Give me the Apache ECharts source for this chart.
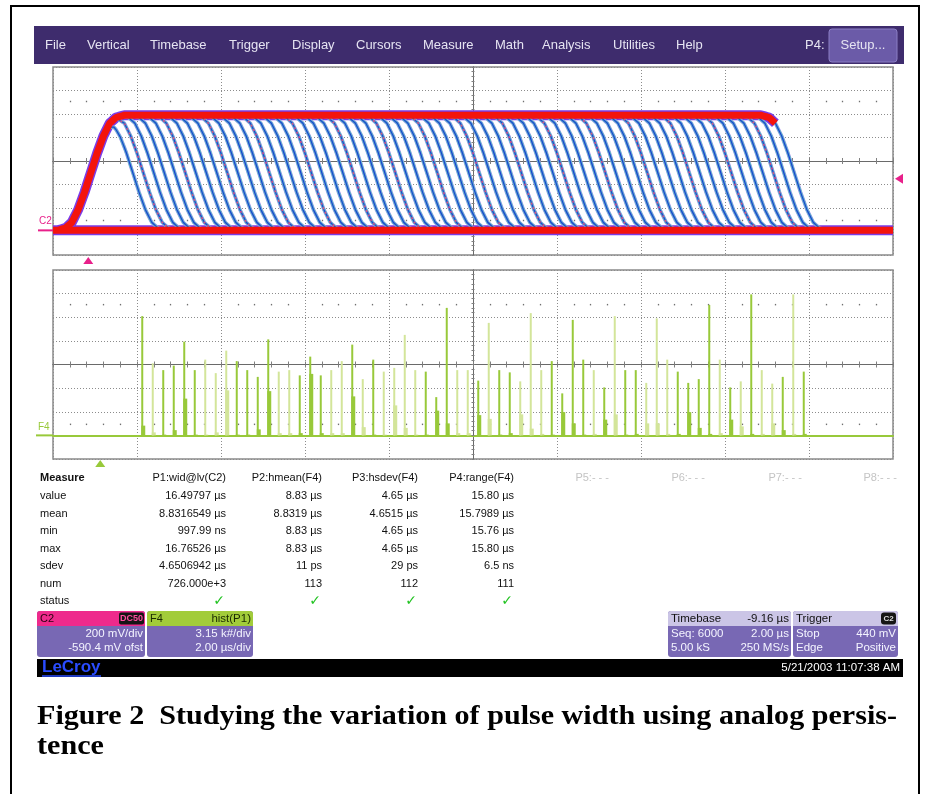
<!DOCTYPE html>
<html><head><meta charset="utf-8">
<script src="https://cdn.jsdelivr.net/npm/echarts@6/dist/echarts.min.js"></script>
<style>html,body{margin:0;padding:0;background:#fff}#c{width:927px;height:794px}</style>
</head><body><div id="c"></div>
<script>
// ================= DATA =================
// pulse widths of the persistence traces, µs (one histogram bin each)
const pulseWidths = [1.00,1.25,1.50,1.75,2.00,2.25,2.50,2.75,3.00,3.25,3.50,3.75,4.00,4.25,4.50,4.75,
  5.00,5.25,5.50,5.75,6.00,6.25,6.50,6.75,7.00,7.25,7.50,7.75,8.00,8.25,8.50,8.75,
  9.00,9.25,9.50,9.75,10.00,10.25,10.50,10.75,11.00,11.25,11.50,11.75,12.00,12.25,12.50,12.75,
  13.00,13.25,13.50,13.75,14.00,14.25,14.50,14.75,15.00,15.25,15.50,15.75,16.00,16.25,16.50,16.75];
// histogram counts (k#) of the main spike of each bin
const histCounts = [15.9,9.6,8.7,9.3,12.5,8.7,10.1,8.3,11.3,9.9,
  8.7,7.8,12.8,8.5,8.7,8.0,10.5,8.0,8.7,9.9,
  12.1,7.5,10.1,8.5,9.0,13.4,8.7,8.5,5.1,17.0,
  8.7,8.7,7.3,15.0,8.7,8.4,7.2,16.3,8.7,9.9,
  5.6,15.4,10.1,8.7,6.4,15.9,8.7,8.7,7.0,15.6,
  10.1,8.5,7.0,7.5,17.4,10.1,6.4,7.2,18.8,8.7,
  6.9,7.8,18.8,8.5];
// small neighbouring counts (k#) beside each spike
const histSideCounts = [1.3,0.4,0.1,0.7,4.9,0.1,0.1,0.4,6.0,0.1,
  0.1,0.8,5.9,0.3,0.3,0.3,8.2,0.3,0.3,0.3,
  5.2,1.1,0.1,0.1,4.0,1.0,0.1,0.1,3.3,1.6,
  0.3,0.3,2.7,2.2,0.1,0.3,2.8,0.9,0.2,0.1,
  3.1,1.6,0.1,0.2,2.1,2.8,0.1,0.2,1.6,1.6,
  0.2,0.2,3.1,1.0,0.2,0.3,2.1,1.2,0.2,0.2,
  1.6,0.7,0.2,0.2];
// pulse edge shape: fraction of full swing vs time from the 50% crossing (µs)
const edgeOffset   = [-0.8,-0.6,-0.45,-0.3,-0.15,0,0.15,0.3,0.45,0.6,0.8];
const edgeFraction = [0,0.02,0.07,0.18,0.33,0.5,0.67,0.82,0.93,0.98,1];
// scope settings
const lowLevel = 0, highLevel = 980;         // mV
const offsetMv = -590.4;                     // mV offset
const triggerLevel = 440;                    // mV
const timebaseDelay = -9.16;                 // µs
const riseAfterTrigger = 0.06;               // µs
// measurement table
const measureRows = ['value','mean','min','max','sdev','num','status'];
const measureHeaders = ['P1:wid@lv(C2)','P2:hmean(F4)','P3:hsdev(F4)','P4:range(F4)'];
const measureP1 = ['16.49797 µs','8.8316549 µs','997.99 ns','16.76526 µs','4.6506942 µs','726.000e+3','✓'];
const measureP2 = ['8.83 µs','8.8319 µs','8.83 µs','8.83 µs','11 ps','113','✓'];
const measureP3 = ['4.65 µs','4.6515 µs','4.65 µs','4.65 µs','29 ps','112','✓'];
const measureP4 = ['15.80 µs','15.7989 µs','15.76 µs','15.80 µs','6.5 ns','111','✓'];
const emptyHeaders = ['P5:- - -','P6:- - -','P7:- - -','P8:- - -'];
const menuItems = ['File','Vertical','Timebase','Trigger','Display','Cursors','Measure','Math','Analysis','Utilities','Help'];
const captionLine1 = 'Figure 2  Studying the variation of pulse width using analog persis-';
const captionLine2 = 'tence';

// ================= STYLE / LAYOUT =================
const paleBars = [2,7,8,9,14,15,19,20,22,24,25,26,27,31,32,34,37,38,39,44,46,49,50,51,56,58,60,61,63];
const brightGreen = '#98c93a', paleGreen = '#d3e59a';
const menuX = [45,87,150,229,292,356,423,495,542,613,676];
const SANS = '"Liberation Sans", Arial, sans-serif';
const CAPFONT = 'bold 27px "Liberation Serif", "Times New Roman", serif';

function edgeAt(x){
  const n = edgeOffset.length;
  if (x <= edgeOffset[0]) return edgeFraction[0];
  if (x >= edgeOffset[n-1]) return edgeFraction[n-1];
  for (let k=1;k<n;k++){
    if (x <= edgeOffset[k]){
      const f = (x-edgeOffset[k-1])/(edgeOffset[k]-edgeOffset[k-1]);
      return edgeFraction[k-1] + f*(edgeFraction[k]-edgeFraction[k-1]);
    }
  }
  return 1;
}
const tRise = timebaseDelay + riseAfterTrigger;
function trace(w){
  const tf = tRise + w;
  const set = new Set([-10, 10]);
  for (let k=-17;k<=17;k++){
    set.add(+(tRise + k*0.05).toFixed(3));
    set.add(+(tf + k*0.05).toFixed(3));
  }
  const ts = Array.from(set).filter(t=>t>=-10 && t<=10).sort((a,b)=>a-b);
  return ts.map(t => [t, offsetMv + lowLevel + (highLevel-lowLevel)*edgeAt(t-tRise)*edgeAt(tf-t)]);
}
function traces(filter){
  const out = [];
  pulseWidths.forEach((w,i)=>{ if(!filter(i)) return; trace(w).forEach(p=>out.push(p)); out.push([10,'-']); });
  return out;
}
const widest = Math.max(...pulseWidths);
const bandData = trace(widest).filter(p => p[0] <= tRise + widest - 0.45)
  .concat([[10,'-'],[-10, offsetMv+lowLevel],[10, offsetMv+lowLevel]]);
const histCenter = (Math.min(...pulseWidths) + Math.max(...pulseWidths))/2;

const AX = '#6a6a6a';
const dotted = {show:true, lineStyle:{color:'#8c8c8c', width:1, type:[1,2]}};
function centerAxis(gridIndex, position, min, max, interval, zeroIdx, split, tickLen){
  return {type:'value', gridIndex, position, min, max, interval,
    axisLabel:{show:false}, splitLine: split ? dotted : {show:false},
    axisLine:{show:true, onZero:true, onZeroAxisIndex:zeroIdx, lineStyle:{color:AX, width:1}},
    axisTick:{show:true, length:tickLen, lineStyle:{color:'#808080'}},
    minorTick:{show:true, splitNumber:5, length:tickLen, lineStyle:{color:'#808080'}},
    minorSplitLine:{show:false}};
}
function dotAxis(gridIndex, position, offset){
  return {type:'value', gridIndex, position, offset, min:-10, max:10, interval:2,
    axisLabel:{show:false}, splitLine:{show:false},
    axisLine:{show:false, onZero:false}, axisTick:{show:false},
    minorTick:{show:true, splitNumber:5, length:1.5, lineStyle:{color:'#707070', width:1.3}}};
}
const lineBase = {type:'line', xAxisIndex:0, yAxisIndex:0, symbol:'none', silent:true, animation:false, connectNulls:false};

const opt = {
  animation:false,
  backgroundColor:'#fff',
  grid:[
    {left:53, top:67, width:840, height:188, show:true, borderColor:'#8a8a8a', borderWidth:1.5, backgroundColor:'#fff'},
    {left:53, top:270, width:840, height:189, show:true, borderColor:'#8a8a8a', borderWidth:1.5, backgroundColor:'#fff'}
  ],
  xAxis:[
    centerAxis(0,'bottom',-10,10,2,0,true,3),
    centerAxis(0,'top',-10,10,2,0,false,3),
    dotAxis(0,'top',-35.25),
    dotAxis(0,'bottom',-35.25),
    centerAxis(1,'bottom',-10,10,2,2,true,3),
    centerAxis(1,'top',-10,10,2,2,false,3),
    dotAxis(1,'top',-35.4),
    dotAxis(1,'bottom',-35.4),
    {type:'value', gridIndex:1, position:'bottom', min:-10, max:10, interval:2,
     axisLabel:{show:false}, splitLine:{show:false}, axisTick:{show:false},
     axisLine:{show:true, onZero:true, onZeroAxisIndex:4, lineStyle:{color:brightGreen, width:2}}}
  ],
  yAxis:[
    centerAxis(0,'left',-800,800,200,0,true,1.5),
    centerAxis(0,'right',-800,800,200,0,false,1.5),
    centerAxis(1,'left',-4,4,1,4,true,1.5),
    centerAxis(1,'right',-4,4,1,4,false,1.5),
    {type:'value', gridIndex:1, min:-3.15, max:22.05, interval:3.15, show:false, axisLine:{onZero:false}}
  ],
  series:[
    Object.assign({}, lineBase, {data:bandData, lineStyle:{color:'#7a3ce8', width:10}}),
    Object.assign({}, lineBase, {data:traces(()=>true), lineStyle:{color:'#a08cf0', width:3.6}}),
    Object.assign({}, lineBase, {data:traces(()=>true), lineStyle:{color:'#4cc9b8', width:2.6}}),
    Object.assign({}, lineBase, {data:traces(()=>true), lineStyle:{color:'#2436d8', width:1.2}}),
    Object.assign({}, lineBase, {data:traces(i=>i%4===1), lineStyle:{color:'#e04b86', width:1.4, type:[2,3]}}),
    Object.assign({}, lineBase, {data:bandData, lineStyle:{color:'#f4140c', width:7}}),
    {type:'bar', xAxisIndex:4, yAxisIndex:4, barWidth:4, barGap:'-100%', silent:true,
     data: pulseWidths.map((w,i)=>({value:[w-histCenter, histSideCounts[i]],
       itemStyle:{color: paleBars.includes(i+1) ? paleGreen : brightGreen}}))},
    {type:'bar', xAxisIndex:4, yAxisIndex:4, barWidth:2, barGap:'-100%', silent:true,
     data: pulseWidths.map((w,i)=>({value:[w-histCenter, histCounts[i]],
       itemStyle:{color: paleBars.includes(i+1) ? paleGreen : brightGreen}}))}
  ]
};

const chart = echarts.init(document.getElementById('c'), null, {width:927, height:794});
chart.setOption(opt);

const trigX = chart.convertToPixel({xAxisIndex:0}, timebaseDelay);
const trigY = chart.convertToPixel({yAxisIndex:0}, triggerLevel + offsetMv);
const gndY = chart.convertToPixel({yAxisIndex:0}, lowLevel + offsetMv);
const histZeroX = chart.convertToPixel({xAxisIndex:4}, 0 - histCenter);
const histBaseY = chart.convertToPixel({yAxisIndex:4}, 0);

function T(text, x, y, o){
  o = o || {};
  const align = o.align || 'left';
  return {type:'text', silent:true, z:100, style:{text, x, y, fill:o.fill||'#111', font:o.font||('11px '+SANS),
    align, textAlign:align, verticalAlign:'middle', textVerticalAlign:'middle'}};
}
function R(x,y,w,h,fill,extra){
  return Object.assign({type:'rect', silent:true, z:90, shape:{x,y,width:w,height:h,r:(extra&&extra.r)||0},
    style:{fill, stroke:(extra&&extra.stroke)||null, lineWidth:(extra&&extra.lw)||0}});
}
const g = [];
// outer frame
g.push({type:'rect', silent:true, z:100, shape:{x:11,y:6,width:908,height:800}, style:{fill:'none', stroke:'#000', lineWidth:2}});
// menu bar
g.push(R(34,26,870,38,'#3e2c6d'));
menuItems.forEach((m,i)=>g.push(T(m, menuX[i], 45, {fill:'#e6e4f2', font:'13px '+SANS})));
g.push(T('P4:', 805, 45, {fill:'#e6e4f2', font:'13px '+SANS}));
g.push(R(829,29,68,33,'#6b5ba8',{r:3, stroke:'#8b7fc4', lw:1}));
g.push(T('Setup...', 863, 45, {fill:'#e6e4f2', font:'13px '+SANS, align:'center'}));
// channel markers
g.push(T('C2', 39, gndY-9, {fill:'#e8208a', font:'10px '+SANS}));
g.push({type:'line', silent:true, z:100, shape:{x1:38,y1:gndY,x2:53,y2:gndY}, style:{stroke:'#e8208a', lineWidth:2}});
g.push({type:'polygon', silent:true, z:100, shape:{points:[[trigX-5,264],[trigX+5,264],[trigX,257]]}, style:{fill:'#e8208a'}});
g.push({type:'polygon', silent:true, z:100, shape:{points:[[895,trigY],[903,trigY-5],[903,trigY+5]]}, style:{fill:'#e8208a'}});
g.push(T('F4', 38, histBaseY-8, {fill:brightGreen, font:'10px '+SANS}));
g.push({type:'line', silent:true, z:100, shape:{x1:36,y1:histBaseY,x2:53,y2:histBaseY}, style:{stroke:brightGreen, lineWidth:2}});
g.push({type:'polygon', silent:true, z:100, shape:{points:[[histZeroX-5,467],[histZeroX+5,467],[histZeroX,460]]}, style:{fill:brightGreen}});
// measure table
const rowY = [496,513.5,531,548.5,566,583.5,601];
const colX = [226,322,418,514];
g.push(T('Measure', 40, 478, {font:'bold 11px '+SANS}));
measureHeaders.forEach((h,i)=>g.push(T(h, colX[i], 478, {align:'right'})));
emptyHeaders.forEach((h,i)=>g.push(T(h, [609,705,802,897][i], 478, {align:'right', fill:'#c4c4c4'})));
measureRows.forEach((r,j)=>g.push(T(r, 40, rowY[j])));
[measureP1,measureP2,measureP3,measureP4].forEach((col,i)=>col.forEach((v,j)=>{
  if (v === '✓') g.push(T(v, colX[i]-1, rowY[j]+0.5, {align:'right', fill:'#22c322', font:'bold 14px "DejaVu Sans"'}));
  else g.push(T(v, colX[i], rowY[j], {align:'right'}));
}));
// bottom panels
const bodyCol = '#7868b4', hdrLav = '#cbc5e6', txtW = '#f4f4ff';
function panel(x,w,hdr){ g.push(R(x,611,w,46,bodyCol,{r:3})); g.push(R(x,611,w,15,hdr,{r:[3,3,0,0]})); }
panel(37,108,'#ee2a8c');
g.push(T('C2', 40, 618.5, {fill:'#2a0010', font:'11px '+SANS}));
g.push(R(119,612.5,25,12,'#151515',{r:2}));
g.push(T('DC50', 131.5, 618.7, {fill:'#ff4fa0', font:'bold 9px '+SANS, align:'center'}));
g.push(T('200 mV/div', 143, 634, {fill:txtW, align:'right', font:'11.5px '+SANS}));
g.push(T(offsetMv.toFixed(1)+' mV ofst', 143, 648, {fill:txtW, align:'right', font:'11.5px '+SANS}));
panel(147,106,'#a2cc3a');
g.push(T('F4', 150, 618.5, {fill:'#1a2a00', font:'11px '+SANS}));
g.push(T('hist(P1)', 251, 618.5, {fill:'#1a2a00', align:'right', font:'11.5px '+SANS}));
g.push(T('3.15 k#/div', 251, 634, {fill:txtW, align:'right', font:'11.5px '+SANS}));
g.push(T('2.00 µs/div', 251, 648, {fill:txtW, align:'right', font:'11.5px '+SANS}));
panel(668,123,hdrLav);
g.push(T('Timebase', 671, 618.5, {fill:'#111', font:'11.5px '+SANS}));
g.push(T(timebaseDelay.toFixed(2)+' µs', 789, 618.5, {fill:'#111', align:'right', font:'11.5px '+SANS}));
g.push(T('Seq: 6000', 671, 634, {fill:txtW, font:'11.5px '+SANS}));
g.push(T('2.00 µs', 789, 634, {fill:txtW, align:'right', font:'11.5px '+SANS}));
g.push(T('5.00 kS', 671, 648, {fill:txtW, font:'11.5px '+SANS}));
g.push(T('250 MS/s', 789, 648, {fill:txtW, align:'right', font:'11.5px '+SANS}));
panel(793,105,hdrLav);
g.push(T('Trigger', 796, 618.5, {fill:'#111', font:'11.5px '+SANS}));
g.push(R(881,612.5,15,12,'#151515',{r:3}));
g.push(T('C2', 888.5, 618.7, {fill:'#dddddd', font:'bold 8px '+SANS, align:'center'}));
g.push(T('Stop', 796, 634, {fill:txtW, font:'11.5px '+SANS}));
g.push(T(triggerLevel+' mV', 896, 634, {fill:txtW, align:'right', font:'11.5px '+SANS}));
g.push(T('Edge', 796, 648, {fill:txtW, font:'11.5px '+SANS}));
g.push(T('Positive', 896, 648, {fill:txtW, align:'right', font:'11.5px '+SANS}));
// black status bar
g.push(R(37,659,866,18,'#000'));
g.push(T('LeCroy', 42, 667.5, {fill:'#2a4cff', font:'bold 17px '+SANS}));
g.push({type:'line', silent:true, z:100, shape:{x1:42,y1:676,x2:101,y2:676}, style:{stroke:'#2a4cff', lineWidth:1.5}});
g.push(T('5/21/2003 11:07:38 AM', 900, 668, {fill:'#fff', align:'right', font:'11.5px '+SANS}));
// caption: first line stretched horizontally to the full text width
const mctx = document.createElement('canvas').getContext('2d');
mctx.font = CAPFONT;
const capLeft = 37, capRight = 897;
const capScale = (capRight - capLeft) / mctx.measureText(captionLine1).width;
function capText(text, y){
  return {type:'text', silent:true, z:100, x:capLeft, y, scaleX:capScale, scaleY:1,
    style:{text, x:0, y:0, fill:'#000', font:CAPFONT, align:'left', textAlign:'left', verticalAlign:'middle', textVerticalAlign:'middle'}};
}
g.push(capText(captionLine1, 717));
g.push(capText(captionLine2, 747));

chart.setOption({graphic: g});
</script>
</body></html>
